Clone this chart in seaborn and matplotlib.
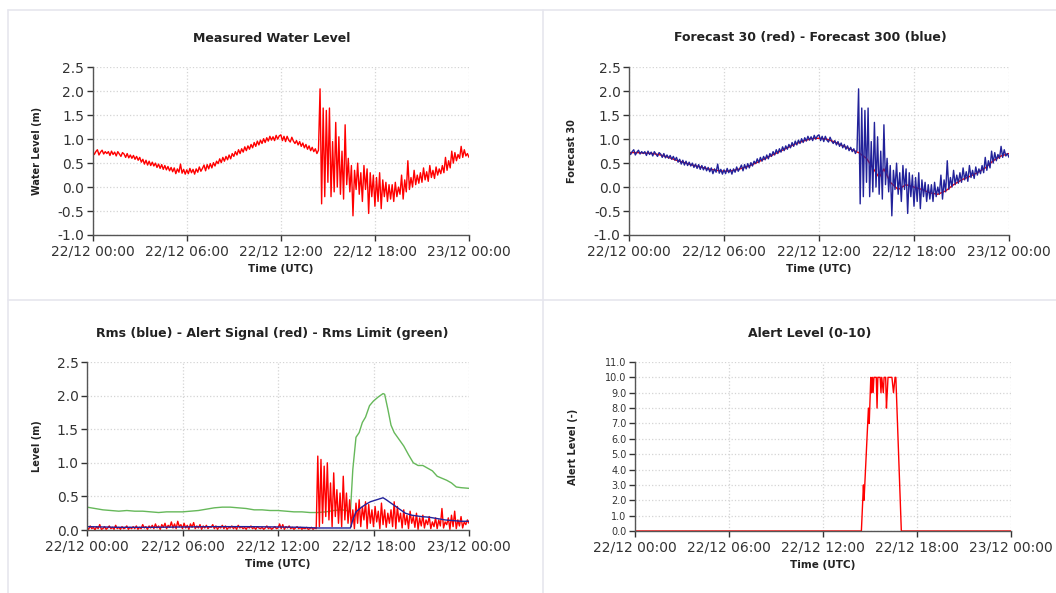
#%% Imports
import numpy as np
import pandas as pd
import matplotlib
matplotlib.use("Agg")
import matplotlib.pyplot as plt
import matplotlib.dates as mdates
from matplotlib.lines import Line2D
import seaborn as sns

#%% Data (times in hours after 22/12 00:00)
# measured water level, one sample every 6 minutes
water_level = [
    0.75, 0.68, 0.74, 0.78, 0.67, 0.73, 0.77, 0.69, 0.74, 0.70,
    0.74, 0.66, 0.75, 0.68, 0.73, 0.65, 0.74, 0.69, 0.64, 0.72,
    0.69, 0.62, 0.70, 0.61, 0.67, 0.60, 0.66, 0.58, 0.64, 0.56,
    0.62, 0.52, 0.58, 0.48, 0.56, 0.46, 0.54, 0.45, 0.52, 0.44,
    0.50, 0.41, 0.48, 0.39, 0.47, 0.37, 0.45, 0.36, 0.43, 0.34,
    0.41, 0.32, 0.40, 0.28, 0.38, 0.31, 0.48, 0.29, 0.37, 0.27,
    0.36, 0.28, 0.39, 0.30, 0.37, 0.27, 0.38, 0.31, 0.42, 0.33,
    0.39, 0.46, 0.34, 0.47, 0.38, 0.49, 0.40, 0.51, 0.44, 0.54,
    0.49, 0.59, 0.51, 0.62, 0.54, 0.64, 0.57, 0.67, 0.59, 0.70,
    0.64, 0.74, 0.67, 0.78, 0.70, 0.80, 0.73, 0.84, 0.76, 0.86,
    0.79, 0.89, 0.82, 0.93, 0.85, 0.96, 0.88, 0.98, 0.91, 1.01,
    0.93, 1.03, 0.96, 1.06, 0.98, 1.05, 0.97, 1.08, 1.00, 1.07,
    1.09, 0.97, 1.06, 0.95, 1.06, 0.98, 0.94, 1.04, 0.96, 0.91,
    0.97, 0.88, 0.95, 0.85, 0.92, 0.82, 0.89, 0.79, 0.86, 0.76,
    0.83, 0.74, 0.80, 0.70, 0.77, 2.05, -0.35, 1.65, -0.20, 1.60,
    0.10, 1.65, -0.20, 0.95, -0.10, 1.35, 0.00, 1.05, -0.15, 0.75,
    -0.25, 1.30, 0.05, 0.60, -0.10, 0.45, -0.60, 0.35, -0.05, 0.50,
    -0.15, 0.30, -0.30, 0.45, -0.05, 0.38, -0.55, 0.30, -0.20, 0.25,
    -0.40, 0.20, -0.30, 0.30, -0.45, 0.15, -0.20, 0.10, -0.30, 0.05,
    -0.25, 0.05, -0.30, 0.10, -0.20, 0.00, -0.15, 0.25, -0.25, 0.15,
    -0.10, 0.55, -0.05, 0.20, 0.00, 0.35, 0.05, 0.25, 0.08, 0.30,
    0.10, 0.40, 0.15, 0.32, 0.12, 0.45, 0.20, 0.35, 0.18, 0.42,
    0.25, 0.38, 0.28, 0.45, 0.30, 0.62, 0.35, 0.55, 0.40, 0.75,
    0.50, 0.72, 0.55, 0.68, 0.60, 0.85, 0.62, 0.78, 0.65, 0.70,
    0.62,
]
# forecast 300 follows the measured signal
forecast_300 = list(water_level)

# alert signal on the same 6 minute grid
alert_signal = [
    0.03, 0.01, 0.06, 0.02, 0.04, 0.00, 0.05, 0.02, 0.08, 0.01,
    0.02, 0.05, 0.01, 0.03, 0.06, 0.02, 0.04, 0.01, 0.07, 0.02,
    0.04, 0.01, 0.05, 0.02, 0.03, 0.06, 0.01, 0.04, 0.02, 0.05,
    0.02, 0.06, 0.01, 0.04, 0.02, 0.08, 0.03, 0.05, 0.01, 0.06,
    0.03, 0.07, 0.02, 0.09, 0.03, 0.06, 0.01, 0.08, 0.04, 0.10,
    0.02, 0.07, 0.04, 0.12, 0.03, 0.09, 0.02, 0.13, 0.05, 0.08,
    0.02, 0.10, 0.03, 0.07, 0.01, 0.09, 0.04, 0.11, 0.02, 0.06,
    0.03, 0.08, 0.01, 0.06, 0.03, 0.07, 0.02, 0.05, 0.04, 0.08,
    0.02, 0.06, 0.01, 0.05, 0.03, 0.07, 0.02, 0.06, 0.01, 0.04,
    0.03, 0.06, 0.02, 0.05, 0.01, 0.07, 0.03, 0.05, 0.02, 0.04,
    0.01, 0.05, 0.03, 0.06, 0.02, 0.04, 0.01, 0.05, 0.03, 0.02,
    0.04, 0.01, 0.03, 0.06, 0.02, 0.04, 0.01, 0.03, 0.05, 0.02,
    0.03, 0.09, 0.02, 0.08, 0.01, 0.05, 0.03, 0.06, 0.02, 0.04,
    0.01, 0.03, 0.05, 0.02, 0.04, 0.01, 0.03, 0.02, 0.04, 0.01,
    0.02, 0.04, 0.01, 0.03, 0.02, 1.10, 0.05, 1.05, 0.10, 0.95,
    0.20, 1.00, 0.15, 0.70, 0.05, 0.85, 0.20, 0.60, 0.10, 0.55,
    0.05, 0.80, 0.15, 0.55, 0.10, 0.45, 0.05, 0.30, 0.02, 0.40,
    0.10, 0.45, 0.05, 0.35, 0.15, 0.42, 0.02, 0.38, 0.10, 0.30,
    0.05, 0.35, 0.12, 0.28, 0.02, 0.40, 0.08, 0.30, 0.04, 0.25,
    0.10, 0.30, 0.05, 0.42, 0.02, 0.35, 0.12, 0.25, 0.03, 0.30,
    0.08, 0.22, 0.02, 0.28, 0.10, 0.20, 0.04, 0.25, 0.01, 0.18,
    0.06, 0.22, 0.03, 0.15, 0.08, 0.20, 0.02, 0.12, 0.05, 0.18,
    0.02, 0.15, 0.06, 0.32, 0.03, 0.12, 0.08, 0.18, 0.01, 0.22,
    0.05, 0.28, 0.02, 0.15, 0.06, 0.20, 0.03, 0.12, 0.08, 0.15,
    0.10,
]

# forecast 30 (smooth)
f30_hours = [0, 0.5, 1, 1.5, 2, 2.5, 3, 3.5, 4, 4.5, 5, 5.5, 6, 6.5, 7, 7.5,
             8, 8.5, 9, 9.5, 10, 10.5, 11, 11.5, 12, 12.5, 13, 13.5, 14, 14.5,
             15, 15.3, 15.8, 16.1, 16.5, 17, 17.5, 18, 18.5, 19, 19.5, 20,
             20.5, 21, 21.5, 22, 22.5, 23, 23.5, 24]
forecast_30 = [0.72, 0.72, 0.71, 0.70, 0.67, 0.62, 0.56, 0.51, 0.46, 0.42,
               0.38, 0.35, 0.33, 0.34, 0.38, 0.43, 0.50, 0.58, 0.66, 0.74,
               0.82, 0.90, 0.96, 1.01, 1.02, 1.00, 0.94, 0.86, 0.79, 0.72,
               0.60, 0.45, 0.20, 0.38, 0.10, -0.05, 0.05, 0.00, -0.05, -0.12,
               -0.15, -0.08, 0.05, 0.15, 0.22, 0.30, 0.40, 0.55, 0.65, 0.70]

# rms limit (green)
limit_hours = [0, 0.5, 1, 1.5, 2, 2.5, 3, 3.5, 4, 4.5, 5, 5.5, 6, 6.5, 7, 7.5,
               8, 8.5, 9, 9.5, 10, 10.5, 11, 11.5, 12, 12.5, 13, 13.5, 14, 14.5,
               15, 15.5, 16, 16.3, 16.55, 16.7, 16.9, 17.1, 17.3, 17.5, 17.75,
               18.0, 18.3, 18.6, 18.7, 18.9, 19.1, 19.3, 19.6, 19.9, 20.2,
               20.5, 20.8, 21.1, 21.4, 21.7, 22.0, 22.3, 22.6, 22.9, 23.2,
               23.5, 24]
rms_limit = [0.34, 0.32, 0.30, 0.29, 0.28, 0.29, 0.28, 0.28, 0.27, 0.26,
             0.27, 0.27, 0.27, 0.28, 0.29, 0.31, 0.33, 0.34, 0.34, 0.33,
             0.32, 0.30, 0.30, 0.29, 0.29, 0.28, 0.27, 0.27, 0.26, 0.26,
             0.27, 0.29, 0.30, 0.29, 0.27, 0.90, 1.38, 1.45, 1.60, 1.68,
             1.85, 1.92, 1.98, 2.03, 2.02, 1.80, 1.56, 1.45, 1.35, 1.25,
             1.12, 1.00, 0.96, 0.96, 0.92, 0.88, 0.80, 0.77, 0.74, 0.70,
             0.64, 0.63, 0.62]

# rms (blue)
rms_hours = [0, 2, 4, 6, 8, 10, 12, 13.5, 14.5, 15.5, 16.55, 16.7, 16.9, 17.2,
             17.5, 17.8, 18.2, 18.6, 18.8, 19.1, 19.4, 19.7, 20.0, 20.4, 21.0,
             21.5, 22.0, 22.5, 23.0, 23.5, 24]
rms = [0.05, 0.04, 0.04, 0.045, 0.05, 0.05, 0.045, 0.04, 0.03, 0.03, 0.03,
       0.15, 0.27, 0.33, 0.38, 0.42, 0.45, 0.48, 0.45, 0.40, 0.35, 0.30,
       0.25, 0.22, 0.20, 0.19, 0.17, 0.15, 0.14, 0.13, 0.13]

# alert level 0-10
level_hours = [0, 14.45, 14.58, 14.62, 14.9, 14.95, 15.05, 15.1, 15.15, 15.2,
               15.25, 15.4, 15.45, 15.5, 15.65, 15.7, 15.75, 15.85, 15.9, 16.0,
               16.05, 16.1, 16.15, 16.4, 16.5, 16.6, 16.65, 17.0, 24]
alert_level = [0, 0, 3, 2, 8, 7, 10, 9, 10, 9,
               10, 10, 8, 10, 10, 9, 10, 9, 10, 10,
               8, 9, 10, 10, 9, 10, 10, 0, 0]

#%% Frames
start = pd.Timestamp("2022-12-22 00:00")
grid = pd.date_range(start, periods=len(water_level), freq="6min")
def to_time(hours):
    return start + pd.to_timedelta(hours, unit="h")

wl_df = pd.DataFrame({"time": grid, "level": water_level,
                      "f300": forecast_300, "alert": alert_signal})
f30_df = pd.DataFrame({"time": to_time(f30_hours), "level": forecast_30})
lim_df = pd.DataFrame({"time": to_time(limit_hours), "level": rms_limit})
rms_df = pd.DataFrame({"time": to_time(rms_hours), "level": rms})
lev_df = pd.DataFrame({"time": to_time(level_hours), "level": alert_level})

#%% Figure
sns.set_style("white")
plt.rcParams["font.family"] = ["DejaVu Sans"]

RED = "#ff0000"
BLUE = "#22229a"
GREEN = "#66b85a"
W, H = 1056, 593

fig = plt.figure(figsize=(10.56, 5.93), dpi=100)

def px_axes(x0, x1, y0, y1):
    return fig.add_axes([x0 / W, 1 - y1 / H, (x1 - x0) / W, (y1 - y0) / H])

def style(ax, ylim, yticks, ylabel, ylab_x, ytick_size=10):
    ax.set_xlim(start, start + pd.Timedelta(hours=24))
    ax.xaxis.set_major_locator(mdates.HourLocator(byhour=[0, 6, 12, 18]))
    ax.xaxis.set_major_formatter(mdates.DateFormatter("%d/%m %H:%M"))
    ax.set_ylim(*ylim)
    ax.set_yticks(yticks)
    ax.set_yticklabels([f"{v:.1f}" for v in yticks])
    ax.grid(True, color="#d4d4d4", linestyle=":", linewidth=0.9)
    for s in ["top", "right"]:
        ax.spines[s].set_visible(False)
    for s in ["left", "bottom"]:
        ax.spines[s].set_color("#555555")
        ax.spines[s].set_linewidth(1.0)
    ax.tick_params(axis="x", labelsize=10, colors="#333333", length=4,
                   width=1, direction="out", bottom=True, pad=3)
    ax.tick_params(axis="y", labelsize=ytick_size, colors="#333333", length=4,
                   width=1, direction="out", left=True, pad=2)
    ax.set_xlabel("Time (UTC)", fontsize=7.5, fontweight="bold",
                  color="#222222", labelpad=4)
    ax.set_ylabel(ylabel, fontsize=7, fontweight="bold", color="#222222")
    ax.yaxis.set_label_coords(ylab_x, 0.5)
    if ax.get_legend() is not None:
        ax.get_legend().remove()

# top left: measured water level
ax1 = px_axes(92.7, 469, 67.3, 235)
sns.lineplot(data=wl_df, x="time", y="level", color=RED, linewidth=1.0, ax=ax1)
style(ax1, (-1.0, 2.5), [-1.0, -0.5, 0.0, 0.5, 1.0, 1.5, 2.0, 2.5],
      "Water Level (m)", -0.135)

# top right: forecast 30 / 300
ax2 = px_axes(629, 1009, 67.3, 235)
sns.lineplot(data=f30_df, x="time", y="level", color=RED, linewidth=1.0, ax=ax2)
sns.lineplot(data=wl_df, x="time", y="f300", color=BLUE, linewidth=1.0, ax=ax2)
style(ax2, (-1.0, 2.5), [-1.0, -0.5, 0.0, 0.5, 1.0, 1.5, 2.0, 2.5],
      "Forecast 30", -0.137)

# bottom left: rms / alert signal / rms limit
ax3 = px_axes(87, 469, 362, 530)
sns.lineplot(data=lim_df, x="time", y="level", color=GREEN, linewidth=1.0, ax=ax3)
sns.lineplot(data=wl_df, x="time", y="alert", color=RED, linewidth=1.0, ax=ax3)
sns.lineplot(data=rms_df, x="time", y="level", color=BLUE, linewidth=1.0, ax=ax3)
style(ax3, (0.0, 2.5), [0.0, 0.5, 1.0, 1.5, 2.0, 2.5], "Level (m)", -0.118)

# bottom right: alert level
ax4 = px_axes(635, 1011, 362, 531)
sns.lineplot(data=lev_df, x="time", y="level", color=RED, linewidth=1.0, ax=ax4)
style(ax4, (0.0, 11.0), [float(v) for v in range(12)], "Alert Level (-)",
      -0.152, ytick_size=7)

# panel titles
title_kw = dict(fontsize=9, fontweight="bold", color="#222222",
                ha="center", va="center")
fig.text(272 / W, 1 - 38 / H, "Measured Water Level", **title_kw)
fig.text(810 / W, 1 - 38 / H, "Forecast 30 (red) - Forecast 300 (blue)", **title_kw)
fig.text(272 / W, 1 - 333 / H, "Rms (blue) - Alert Signal (red) - Rms Limit (green)", **title_kw)
fig.text(810 / W, 1 - 333 / H, "Alert Level (0-10)", **title_kw)

# faint panel borders
sep = "#e6e6ee"
fig.add_artist(Line2D([543 / W, 543 / W], [0, 1 - 10 / H], color=sep, lw=1.2))
fig.add_artist(Line2D([8 / W, 8 / W], [0, 1 - 10 / H], color=sep, lw=1.2))
fig.add_artist(Line2D([8 / W, 1], [1 - 300 / H, 1 - 300 / H], color=sep, lw=1.2))
fig.add_artist(Line2D([8 / W, 1], [1 - 10 / H, 1 - 10 / H], color=sep, lw=1.2))

fig.savefig("out.png", dpi=100)
